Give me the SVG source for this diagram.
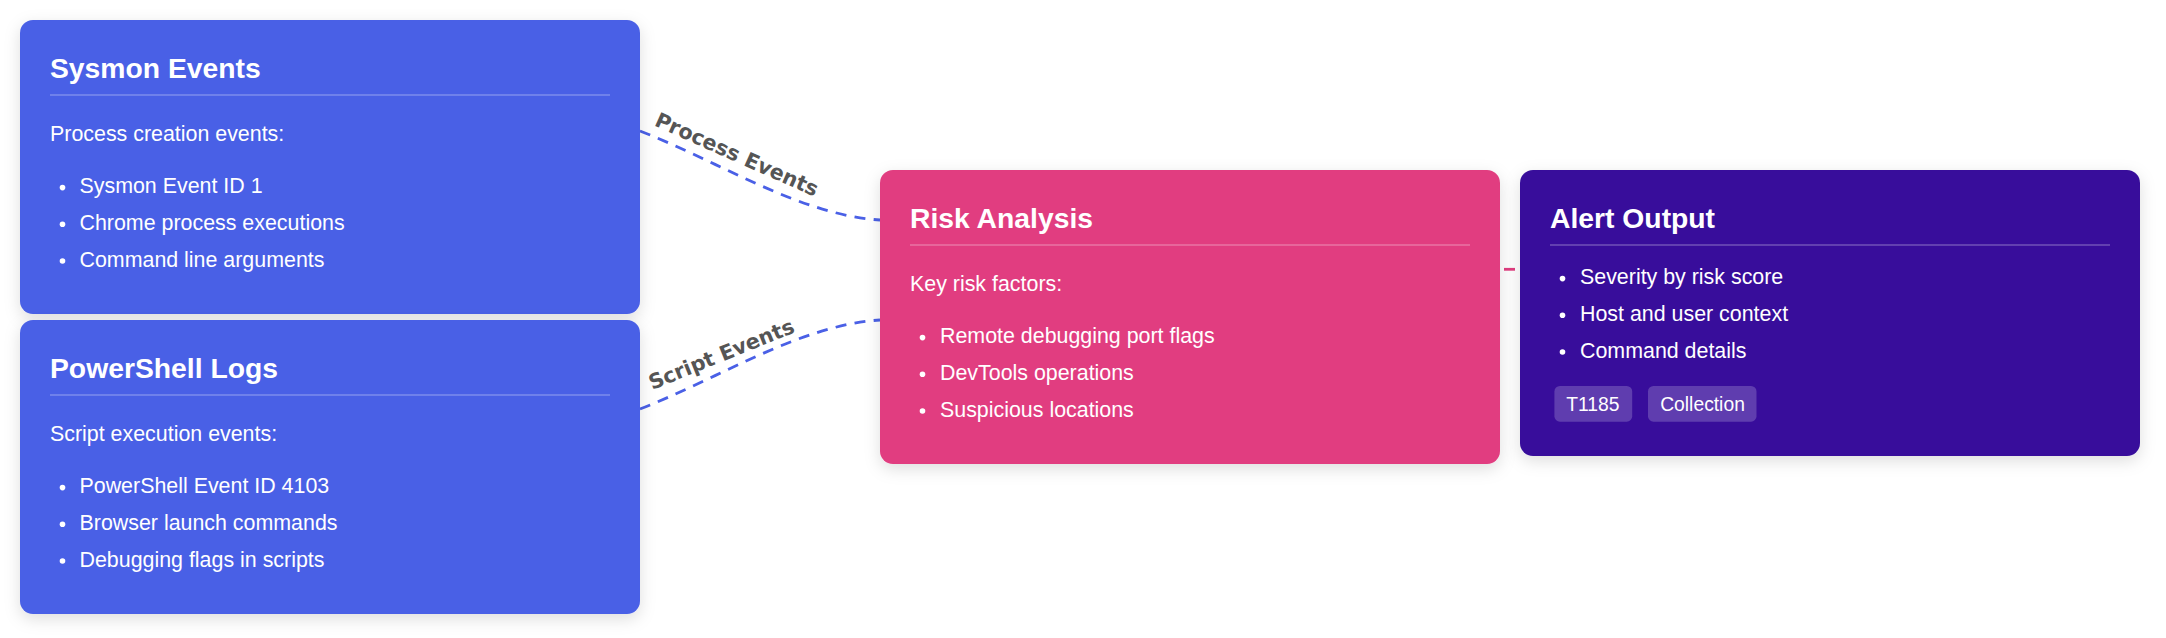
<svg xmlns="http://www.w3.org/2000/svg" width="2166" height="638" viewBox="0 0 2166 638">
<defs>
<filter id="shadow" x="-10%" y="-10%" width="120%" height="135%">
<feDropShadow dx="0" dy="5" stdDeviation="8" flood-color="#000" flood-opacity="0.13"/>
</filter>
<style>
.box{filter:url(#shadow);}
.blue{fill:#4a60e6;}
.pink{fill:#e13d80;}
.purple{fill:#37109b;}
.title{font-family:"Liberation Sans",Arial,sans-serif;font-weight:bold;font-size:28.3px;fill:#fff;}
.body{font-family:"Liberation Sans",Arial,sans-serif;font-size:21.4px;fill:#fff;}
.tagtxt{font-family:"Liberation Sans",Arial,sans-serif;font-size:19.3px;fill:#fff;}
.div{fill:#fff;fill-opacity:0.3;}
.dot{fill:#fff;}
.tag{fill:#fff;fill-opacity:0.2;}
.conn{fill:none;stroke:#4a60e6;stroke-width:2.8;stroke-dasharray:11 8.3;}
.conn-pink{fill:none;stroke:#e13d80;stroke-width:2.8;stroke-dasharray:11 11;}
.lbl{font-family:"DejaVu Sans",Verdana,sans-serif;font-weight:bold;font-size:20.7px;fill:#555;}
</style>
</defs>
<rect width="2166" height="638" fill="#fff"/>

<g id="connectors">
<path class="conn" d="M640 131 C720 162, 800 215, 880 220"/>
<path class="conn" d="M640 409 C720 378, 800 325, 880 320"/>
<line class="conn-pink" x1="1504" y1="269.3" x2="1520" y2="269.3"/>
<text class="lbl" text-anchor="middle" transform="translate(734 161) rotate(24)">Process Events</text>
<text class="lbl" text-anchor="middle" transform="translate(724 361) rotate(-22)">Script Events</text>
</g>

<g id="sysmon">
<rect class="box blue" x="20" y="20" width="620" height="294" rx="13"/>
<text class="title" x="50" y="78.3">Sysmon Events</text>
<rect class="div" x="50" y="94.3" width="560" height="1.4"/>
<text class="body" x="50" y="140.7">Process creation events:</text>
<circle class="dot" cx="62.5" cy="187.6" r="2.8"/>
<text class="body" x="79.5" y="193.3">Sysmon Event ID 1</text>
<circle class="dot" cx="62.5" cy="224.3" r="2.8"/>
<text class="body" x="79.5" y="230">Chrome process executions</text>
<circle class="dot" cx="62.5" cy="261" r="2.8"/>
<text class="body" x="79.5" y="266.7">Command line arguments</text>
</g>

<g id="powershell">
<rect class="box blue" x="20" y="320" width="620" height="294" rx="13"/>
<text class="title" x="50" y="378.3">PowerShell Logs</text>
<rect class="div" x="50" y="394.3" width="560" height="1.4"/>
<text class="body" x="50" y="440.7">Script execution events:</text>
<circle class="dot" cx="62.5" cy="487.6" r="2.8"/>
<text class="body" x="79.5" y="493.3">PowerShell Event ID 4103</text>
<circle class="dot" cx="62.5" cy="524.3" r="2.8"/>
<text class="body" x="79.5" y="530">Browser launch commands</text>
<circle class="dot" cx="62.5" cy="561" r="2.8"/>
<text class="body" x="79.5" y="566.7">Debugging flags in scripts</text>
</g>

<g id="risk">
<rect class="box pink" x="880" y="170" width="620" height="294" rx="13"/>
<text class="title" x="910" y="228.3">Risk Analysis</text>
<rect class="div" x="910" y="244.3" width="560" height="1.4"/>
<text class="body" x="910" y="290.7">Key risk factors:</text>
<circle class="dot" cx="922.5" cy="337.6" r="2.8"/>
<text class="body" x="940" y="343.3">Remote debugging port flags</text>
<circle class="dot" cx="922.5" cy="374.3" r="2.8"/>
<text class="body" x="940" y="380">DevTools operations</text>
<circle class="dot" cx="922.5" cy="411" r="2.8"/>
<text class="body" x="940" y="416.7">Suspicious locations</text>
</g>

<g id="alert">
<rect class="box purple" x="1520" y="170" width="620" height="286" rx="13"/>
<text class="title" x="1550" y="228.3">Alert Output</text>
<rect class="div" x="1550" y="244.3" width="560" height="1.4"/>
<circle class="dot" cx="1562.5" cy="278.6" r="2.8"/>
<text class="body" x="1580" y="284.3">Severity by risk score</text>
<circle class="dot" cx="1562.5" cy="315.3" r="2.8"/>
<text class="body" x="1580" y="321">Host and user context</text>
<circle class="dot" cx="1562.5" cy="352" r="2.8"/>
<text class="body" x="1580" y="357.7">Command details</text>
<rect class="tag" x="1554.4" y="386" width="77.8" height="35.7" rx="5.5"/>
<text class="tagtxt" x="1566.2" y="410.7">T1185</text>
<rect class="tag" x="1648" y="386" width="108.5" height="35.7" rx="5.5"/>
<text class="tagtxt" x="1660.2" y="410.7">Collection</text>
</g>
</svg>
